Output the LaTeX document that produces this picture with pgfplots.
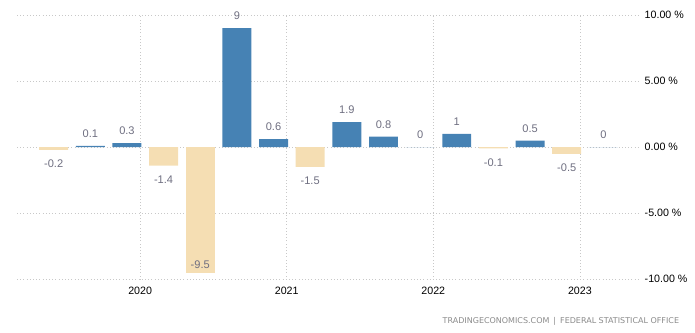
\documentclass[border=0pt]{standalone}
\usepackage{pgfplots}
\pgfplotsset{compat=1.18}
\usepackage{fontspec}
\setmainfont{Liberation Sans}
\newfontfamily\srcfont{DejaVu Sans}
\definecolor{barblue}{HTML}{4682B4}
\definecolor{bartan}{HTML}{F5DEB3}
\definecolor{lblgray}{HTML}{6E6E80}
\definecolor{gridgray}{HTML}{C8C8C8}
\definecolor{srcgray}{HTML}{8A8A8A}
\begin{document}
\begin{tikzpicture}
\path[use as bounding box] (0,0) rectangle (521.25pt,249pt);
\begin{axis}[
  at={(12.75pt,39.53pt)}, anchor=south west,
  scale only axis, width=467.25pt, height=198.2pt,
  xmin=-1, xmax=16, ymin=-10, ymax=10,
  ybar, bar width=0.79, bar shift=0pt,
  axis line style={draw=none},
  major tick length=0pt,
  xtick={2.36,6.36,10.36,14.36},
  xticklabels={2020,2021,2022,2023},
  ytick={-10,-5,0,5,10},
  yticklabels={-10.00 \%,-5.00 \%,0.00 \%,5.00 \%,10.00 \%},
  yticklabel pos=right,
  grid=major,
  major grid style={gridgray, dotted, line width=0.6pt},
  tick label style={font=\fontsize{8}{9}\selectfont, black},
  xticklabel style={anchor=center, yshift=-8.3pt},
  yticklabel style={anchor=west, xshift=0pt},
  clip=false,
  point meta=explicit symbolic,
  nodes near coords,
  every node near coord/.append style={font=\fontsize{8.3}{9}\selectfont, text=lblgray, anchor=center},
]
\addplot[fill=barblue, draw=none, nodes near coords style={yshift=9.2pt}] coordinates {
  (1,0.1) [0.1] (2,0.3) [0.3] (5,9) [9] (6,0.6) [0.6] (8,1.9) [1.9]
  (9,0.8) [0.8] (10,0) [0] (11,1) [1] (13,0.5) [0.5] (15,0) [0]
};
\addplot[fill=bartan, draw=none, nodes near coords style={yshift=-10.5pt}] coordinates {
  (0,-0.2) [-0.2] (3,-1.4) [-1.4] (7,-1.5) [-1.5] (12,-0.1) [-0.1] (14,-0.5) [-0.5]
};
\addplot[fill=bartan, draw=none, nodes near coords style={yshift=6pt}] coordinates {
  (4,-9.5) [-9.5]
};
\end{axis}
\node[anchor=east, inner sep=0pt, text=srcgray, font=\srcfont\fontsize{6}{7}\selectfont] at (509.5pt,8.25pt) {TRADINGECONOMICS.COM\enspace|\enspace FEDERAL STATISTICAL OFFICE};
\end{tikzpicture}
\end{document}
